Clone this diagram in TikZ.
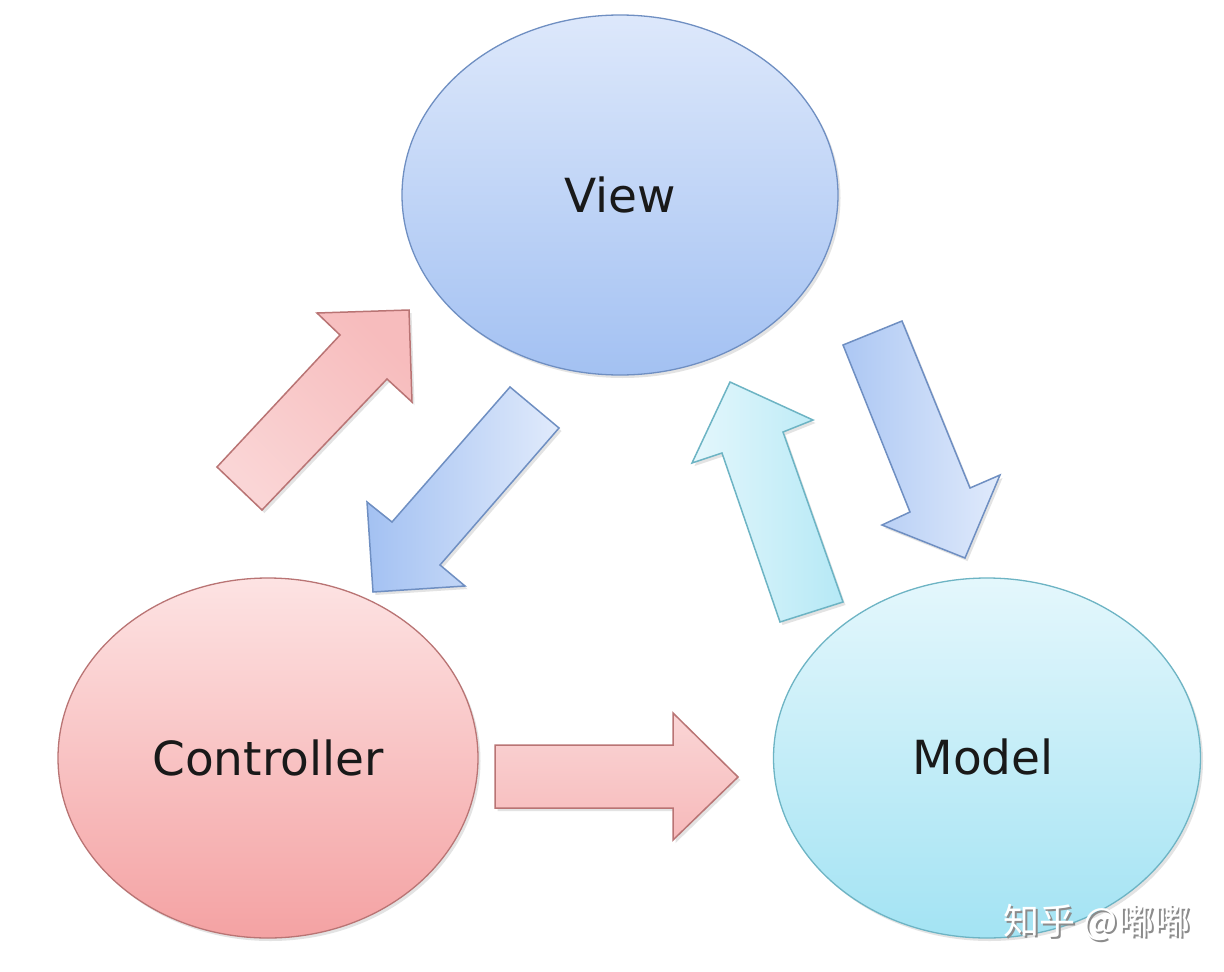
\documentclass[tikz,border=0pt]{standalone}
\usepackage{fontspec}
\setmainfont{DejaVu Sans}
\newfontfamily\cjk{Noto Sans CJK SC}
\usetikzlibrary{shapes.geometric,shadows}
\definecolor{vtop}{HTML}{DDE8FB}
\definecolor{vbot}{HTML}{A3C1F2}
\definecolor{vline}{HTML}{6F8FC2}
\definecolor{ctop}{HTML}{FDE3E3}
\definecolor{cbot}{HTML}{F4A2A3}
\definecolor{cline}{HTML}{B97474}
\definecolor{mtop}{HTML}{E4F7FC}
\definecolor{mbot}{HTML}{A3E3F3}
\definecolor{mline}{HTML}{6DB4C4}
\tikzset{
  shade/.style={drop shadow={shadow xshift=2.5pt,shadow yshift=-3pt,opacity=0.18,fill=black!60}},
  viewbox/.style={ellipse,draw=vline,line width=1.3pt,top color=vtop,bottom color=vbot,inner sep=0pt,shade},
  ctrlbox/.style={ellipse,draw=cline,line width=1.3pt,top color=ctop,bottom color=cbot,inner sep=0pt,shade},
  modelbox/.style={ellipse,draw=mline,line width=1.3pt,top color=mtop,bottom color=mbot,inner sep=0pt,shade},
  label/.style={font=\fontsize{47}{47}\selectfont,text=black!90},
  pinkarrow/.style={draw=cline,line width=1.5pt,line join=miter,shade},
  bluearrow/.style={draw=vline,line width=1.5pt,line join=miter,shade},
  cyanarrow/.style={draw=mline,line width=1.5pt,line join=miter,shade},
}
\begin{document}
\begin{tikzpicture}[x=1pt,y=-1pt]
\useasboundingbox (0,0) rectangle (1224,972);
\fill[white] (0,0) rectangle (1224,972);
% ellipses
\node[viewbox,minimum width=436pt,minimum height=360pt] (view) at (620,195) {};
\node[ctrlbox,minimum width=420pt,minimum height=360pt] (ctrl) at (268,758) {};
\node[modelbox,minimum width=427pt,minimum height=360pt] (model) at (987,758) {};
\node[label] (viewt) at (view.center) {View};
\node[label] (ctrlt) at (ctrl.center) {Controller};
\node[label] (modelt) at (983,757) {Model};
% arrows
\path[pinkarrow,top color=cbot!72,bottom color=cbot!45,shading angle=-45]
  (217,467) -- (340,335) -- (317,313) -- (409,310) -- (412,402) -- (387,379) -- (262,510) -- cycle;
\path[bluearrow,top color=vbot,bottom color=vtop!90,shading angle=90]
  (510,387) -- (559,428) -- (440,565) -- (465,586) -- (373,592) -- (367,502) -- (392,522) -- cycle;
\path[cyanarrow,top color=mbot!80,bottom color=mtop,shading angle=-90]
  (780,622) -- (722,453) -- (692,463) -- (730,382) -- (813,420) -- (783,432) -- (843,602) -- cycle;
\path[bluearrow,top color=vbot!90,bottom color=vtop!90,shading angle=90]
  (843,345) -- (902,321) -- (970,488) -- (1000,475) -- (965,558) -- (882,525) -- (910,512) -- cycle;
\path[pinkarrow,top color=cbot!45,bottom color=cbot!75]
  (495,745) -- (673,745) -- (673,713) -- (738,777) -- (673,840) -- (673,808) -- (495,808) -- cycle;
% watermark
\node[font=\cjk\fontsize{36}{36}\selectfont,text=black!45] (wms) at (1099,924) {知乎 @嘟嘟};
\node[font=\cjk\fontsize{36}{36}\selectfont,text=white] (wm) at (1097,922) {知乎 @嘟嘟};
\end{tikzpicture}
\end{document}
